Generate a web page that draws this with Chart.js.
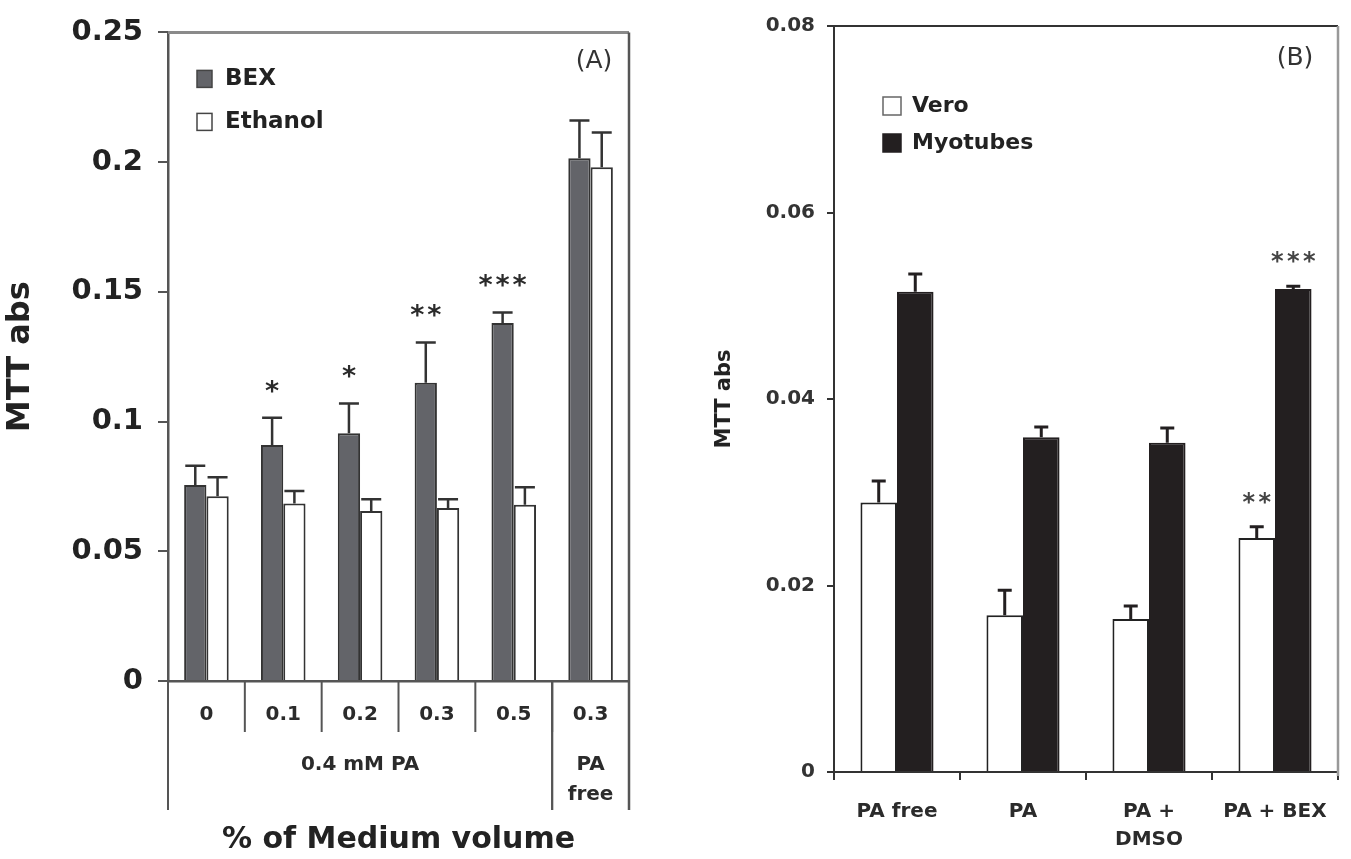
<!DOCTYPE html>
<html>
<head>
<meta charset="utf-8">
<script src="https://cdn.jsdelivr.net/npm/chart.js@4.4.1/dist/chart.umd.min.js"></script>
<style>
  html, body { margin: 0; padding: 0; background: #fff; }
  #wrap { position: relative; width: 1351px; height: 859px; }
  canvas { position: absolute; top: 0; }
  #chartA { left: 0; }
  #chartB { left: 680px; }
</style>
</head>
<body>
<div id="wrap">
  <canvas id="chartA" width="680" height="859"></canvas>
  <canvas id="chartB" width="671" height="859"></canvas>
</div>
<script>
// --- panel A data ---
const catsA = ['0', '0.1', '0.2', '0.3', '0.5', '0.3'];
const bexA = [0.0755, 0.091, 0.0955, 0.115, 0.138, 0.2015];
const bexErrA = [0.0075, 0.0105, 0.0115, 0.0155, 0.004, 0.0145];
const ethA = [0.0712, 0.0684, 0.0655, 0.0667, 0.0679, 0.198];
const ethErrA = [0.0073, 0.0048, 0.0046, 0.0034, 0.0068, 0.0134];
const sigA = ['', '*', '*', '**', '***', ''];
const groupsA = [
    { text: ['0.4 mM PA'], from: 0, to: 4 },
    { text: ['PA', 'free'], from: 5, to: 5 }
];

// --- panel B data ---
const catsB = ['PA free', 'PA', ['PA +', 'DMSO'], 'PA + BEX'];
const veroB = [0.0289, 0.0168, 0.0164, 0.0251];
const veroErrB = [0.0023, 0.0027, 0.0014, 0.0012];
const myoB = [0.0515, 0.0359, 0.0353, 0.0518];
const myoErrB = [0.0019, 0.0011, 0.0016, 0.0003];
const sigVeroB = ['', '', '', '**'];
const sigMyoB = ['', '', '', '***'];

const FONT = "'DejaVu Sans', Verdana, sans-serif";

// error bars + significance stars
const errorBars = {
    id: 'errorBars',
    afterDatasetsDraw(chart, args, opts) {
        const { ctx } = chart;
        const y = chart.scales.y;
        ctx.save();
        chart.data.datasets.forEach((ds, di) => {
            const meta = chart.getDatasetMeta(di);
            meta.data.forEach((bar, i) => {
                const top = y.getPixelForValue(ds.data[i] + ds.errors[i]);
                ctx.strokeStyle = opts.color;
                ctx.lineWidth = opts.width;
                ctx.beginPath();
                ctx.moveTo(bar.x, bar.y);
                ctx.lineTo(bar.x, top);
                ctx.moveTo(bar.x - opts.cap / 2, top);
                ctx.lineTo(bar.x + opts.cap / 2, top);
                ctx.stroke();

                const s = ds.stars ? ds.stars[i] : '';
                if (s) {
                    ctx.fillStyle = opts.starColor;
                    ctx.font = 'bold ' + opts.starSize + 'px ' + FONT;
                    ctx.textAlign = 'center';
                    ctx.textBaseline = 'alphabetic';
                    const cy = top - opts.starOffset + opts.starSize * 0.55;
                    for (let k = 0; k < s.length; k++) {
                        const cx = bar.x + (k - (s.length - 1) / 2) * opts.starGap;
                        ctx.fillText('*', cx, cy);
                    }
                }
            });
        });
        ctx.restore();
    }
};

// frame lines, legend box and panel letter
const decor = {
    id: 'decor',
    afterDraw(chart, args, o) {
        const { ctx, chartArea: a } = chart;
        const x = chart.scales.x;
        ctx.save();

        // top + right border
        ctx.lineCap = 'butt';
        ctx.strokeStyle = o.topColor;
        ctx.lineWidth = o.topWidth;
        ctx.beginPath();
        ctx.moveTo(a.left, a.top);
        ctx.lineTo(a.right, a.top);
        ctx.stroke();
        ctx.strokeStyle = o.rightColor;
        ctx.lineWidth = o.rightWidth;
        ctx.beginPath();
        ctx.moveTo(a.right, a.top);
        ctx.lineTo(a.right, a.bottom + o.rightExt);
        ctx.stroke();

        // category dividers below the axis (panel A)
        if (o.groups) {
            const n = chart.data.labels.length;
            const edge = i => i <= 0 ? a.left : i >= n ? a.right
                : (x.getPixelForValue(i - 1) + x.getPixelForValue(i)) / 2;
            ctx.strokeStyle = o.axisColor;
            ctx.lineWidth = 2;
            for (let i = 1; i < n; i++) {
                ctx.beginPath();
                ctx.moveTo(edge(i), a.bottom);
                ctx.lineTo(edge(i), a.bottom + o.divShort);
                ctx.stroke();
            }
            o.groups.forEach(g => {
                [g.from, g.to + 1].forEach(i => {
                    if (i >= n) return;
                    ctx.beginPath();
                    ctx.moveTo(edge(i), a.bottom);
                    ctx.lineTo(edge(i), a.bottom + o.divLong);
                    ctx.stroke();
                });
                const cx = (edge(g.from) + edge(g.to + 1)) / 2;
                ctx.fillStyle = '#2b2b2b';
                ctx.font = 'bold 20px ' + FONT;
                ctx.textAlign = 'center';
                ctx.textBaseline = 'middle';
                g.text.forEach((t, k) => ctx.fillText(t, cx, a.bottom + o.groupY + k * 30));
            });
        }

        // legend
        ctx.font = 'bold ' + o.legendSize + 'px ' + FONT;
        ctx.textAlign = 'left';
        ctx.textBaseline = 'middle';
        chart.data.datasets.forEach((ds, i) => {
            const bx = a.left + o.legendX;
            const by = a.top + o.legendY + i * o.legendGap;
            ctx.fillStyle = ds.backgroundColor;
            ctx.fillRect(bx, by, o.boxW, o.boxH);
            ctx.strokeStyle = ds.legendBorder;
            ctx.lineWidth = 1.5;
            ctx.strokeRect(bx, by, o.boxW, o.boxH);
            ctx.fillStyle = '#222';
            ctx.fillText(ds.label, bx + o.boxW + o.textGap, by + o.boxH / 2);
        });

        // panel letter
        ctx.font = '25px ' + FONT;
        ctx.fillStyle = '#333';
        ctx.textAlign = 'center';
        ctx.fillText(o.letter, a.right - o.letterDx, a.top + o.letterDy);
        ctx.restore();
    }
};

// ---- chart A ----
new Chart(document.getElementById('chartA'), {
    type: 'bar',
    data: {
        labels: catsA,
        datasets: [{
            label: 'BEX',
            data: bexA,
            errors: bexErrA,
            stars: sigA,
            backgroundColor: '#636469',
            borderColor: '#333',
            legendBorder: '#444',
            borderWidth: 2
        }, {
            label: 'Ethanol',
            data: ethA,
            errors: ethErrA,
            backgroundColor: '#ffffff',
            borderColor: '#333',
            legendBorder: '#444',
            borderWidth: 2
        }]
    },
    options: {
        responsive: false,
        animation: false,
        categoryPercentage: 0.58,
        barPercentage: 1,
        layout: { padding: { left: 0, right: 51, top: 25, bottom: 0 } },
        plugins: {
            legend: { display: false },
            tooltip: { enabled: false },
            errorBars: { color: '#333', width: 2.5, cap: 20, starSize: 27, starGap: 17, starOffset: 33, starColor: '#2b2b2b' },
            decor: {
                topColor: '#8a8a8a', topWidth: 3, rightColor: '#555', rightWidth: 2.5, rightExt: 129,
                axisColor: '#555', divShort: 51, divLong: 129, groups: groupsA, groupY: 84,
                legendSize: 23, legendX: 29, legendY: 38, legendGap: 43, boxW: 15, boxH: 17, textGap: 13,
                letter: '(A)', letterDx: 35, letterDy: 29
            }
        },
        scales: {
            x: {
                offset: true,
                grid: { display: false, drawTicks: false },
                border: { display: true, color: '#555', width: 2.5 },
                ticks: {
                    padding: 22, color: '#2b2b2b', maxRotation: 0, autoSkip: false,
                    font: { family: FONT, size: 20, weight: 'bold' }
                },
                title: {
                    display: true, text: '% of Medium volume', color: '#222',
                    font: { family: FONT, size: 30, weight: 'bold' },
                    padding: { top: 0, bottom: 1 }
                },
                afterFit: s => { s.height = 178; }
            },
            y: {
                min: 0,
                max: 0.25,
                ticks: {
                    stepSize: 0.05, padding: 15, color: '#222',
                    font: { family: FONT, size: 29, weight: 'bold' },
                    callback: v => String(+v.toFixed(2))
                },
                grid: { drawOnChartArea: false, drawTicks: true, tickLength: 10, color: '#555', lineWidth: 2 },
                border: { display: true, color: '#555', width: 2.5 },
                title: {
                    display: true, text: 'MTT abs', color: '#222',
                    font: { family: FONT, size: 32, weight: 'bold' },
                    padding: { top: 1, bottom: 0 }
                },
                afterFit: s => { s.width = 168; }
            }
        }
    },
    plugins: [errorBars, decor]
});

// ---- chart B ----
new Chart(document.getElementById('chartB'), {
    type: 'bar',
    data: {
        labels: catsB,
        datasets: [{
            label: 'Vero',
            data: veroB,
            errors: veroErrB,
            stars: sigVeroB,
            backgroundColor: '#ffffff',
            borderColor: '#222',
            legendBorder: '#666',
            borderWidth: 2
        }, {
            label: 'Myotubes',
            data: myoB,
            errors: myoErrB,
            stars: sigMyoB,
            backgroundColor: '#231f20',
            borderColor: '#231f20',
            legendBorder: '#231f20',
            borderWidth: 2
        }]
    },
    options: {
        responsive: false,
        animation: false,
        categoryPercentage: 0.58,
        barPercentage: 1,
        layout: { padding: { left: 0, right: 13, top: 26, bottom: 0 } },
        plugins: {
            legend: { display: false },
            tooltip: { enabled: false },
            errorBars: { color: '#231f20', width: 3, cap: 14, starSize: 24, starGap: 16, starOffset: 30, starColor: '#444' },
            decor: {
                topColor: '#333', topWidth: 2, rightColor: '#999', rightWidth: 2.5, rightExt: 4,
                legendSize: 22, legendX: 49, legendY: 71, legendGap: 37, boxW: 18, boxH: 18, textGap: 11,
                letter: '(B)', letterDx: 43, letterDy: 32
            }
        },
        scales: {
            x: {
                offset: true,
                grid: { display: true, offset: true, drawOnChartArea: false, drawTicks: true, tickLength: 8, color: '#333', lineWidth: 2 },
                border: { display: true, color: '#333', width: 2 },
                ticks: {
                    padding: 18, color: '#2b2b2b', maxRotation: 0, autoSkip: false,
                    font: { family: FONT, size: 20, weight: 'bold', lineHeight: 1.4 }
                },
                afterFit: s => { s.height = 87; }
            },
            y: {
                min: 0,
                max: 0.08,
                ticks: {
                    stepSize: 0.02, padding: 12, color: '#333',
                    font: { family: FONT, size: 20, weight: 'bold' },
                    callback: v => String(+v.toFixed(2))
                },
                grid: { drawOnChartArea: false, drawTicks: true, tickLength: 7, color: '#333', lineWidth: 2 },
                border: { display: true, color: '#333', width: 2 },
                title: {
                    display: true, text: 'MTT abs', color: '#222',
                    font: { family: FONT, size: 21, weight: 'bold' },
                    padding: { top: 32, bottom: 0 }
                },
                afterFit: s => { s.width = 154; }
            }
        }
    },
    plugins: [errorBars, decor]
});
</script>
</body>
</html>
